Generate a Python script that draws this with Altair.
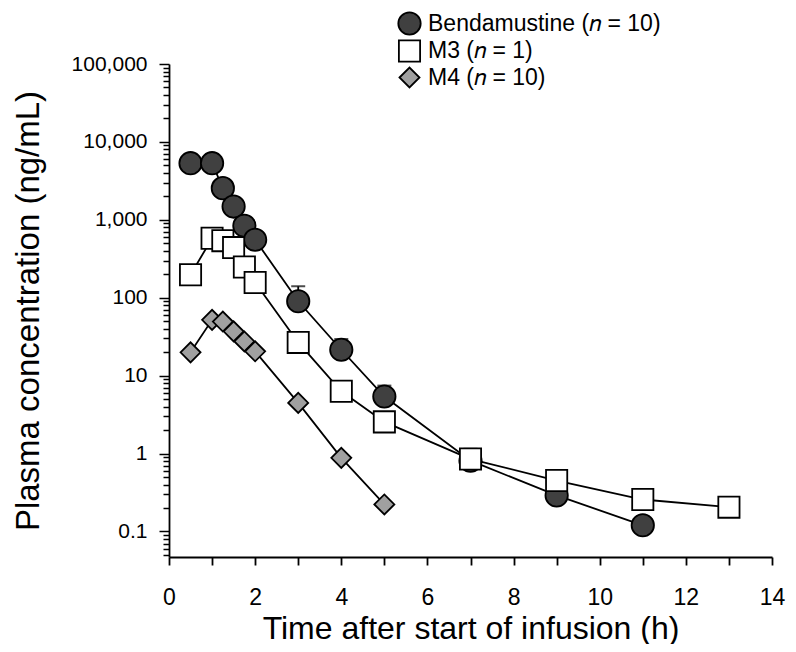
import altair as alt
import pandas as pd

# ---- data ----
series_names = ["Bendamustine (𝑛 = 10)", "M3 (𝑛 = 1)", "M4 (𝑛 = 10)"]

times_b = [0.5, 1, 1.25, 1.5, 1.75, 2, 3, 4, 5, 7, 9, 11]
conc_b = [5330, 5330, 2550, 1480, 840, 555, 90, 21.5, 5.4, 0.81, 0.29, 0.12]

times_m3 = [0.5, 1, 1.25, 1.5, 1.75, 2, 3, 4, 5, 7, 9, 11, 13]
conc_m3 = [197, 580, 540, 440, 248, 157, 26.7, 6.3, 2.55, 0.85, 0.45, 0.257, 0.205]

times_m4 = [0.5, 1, 1.25, 1.5, 1.75, 2, 3, 4, 5]
conc_m4 = [19.9, 52, 49.5, 37, 27.5, 20.5, 4.47, 0.88, 0.222]

err_times = [3, 4, 5, 7]
err_mean = [90, 21.5, 5.4, 0.81]
err_upper = [140, 29.5, 7.45, 1.15]

x_ticks = list(range(0, 15))
decades = [0.01, 0.1, 1, 10, 100, 1000, 10000, 100000]

# ---- tables ----
rows = []
for name, ts, cs in zip(series_names, [times_b, times_m3, times_m4], [conc_b, conc_m3, conc_m4]):
    for t, c in zip(ts, cs):
        rows.append({"series": name, "time": t, "conc": c})
df = pd.DataFrame(rows)
err = pd.DataFrame({"time": err_times, "conc": err_mean, "upper": err_upper})

y_min, y_max = 0.047, 100000
y_values = sorted({round(d * k, 6) for d in decades for k in range(1, 10)
                   if y_min <= d * k <= y_max})

is_decade = "abs(log(datum.value)/LN10 - round(log(datum.value)/LN10)) < 1e-6"

font = "Liberation Sans"

x_scale = alt.Scale(domain=[0, 14], nice=False, zero=False)
y_scale = alt.Scale(type="log", domain=[y_min, y_max], nice=False)

x_axis = alt.Axis(
    values=x_ticks, labelExpr="datum.value % 2 == 0 ? datum.label : ''",
    title="Time after start of infusion (h)", grid=False,
    tickSize=8, tickWidth=1.8, tickColor="black", domainColor="black", domainWidth=1.8,
    labelFont=font, labelFontSize=23, labelColor="black", labelPadding=21,
    labelFlush=False, labelOverlap=False,
    titleFont=font, titleFontSize=32, titleFontWeight="normal", titleColor="black",
    titleY=71, titleBaseline="middle",
)
y_axis = alt.Axis(
    values=y_values,
    labelExpr=f"{is_decade} ? (datum.value < 1 ? '0.1' : format(datum.value, ',')) : ''",
    title="Plasma concentration (ng/mL)", grid=False,
    tickSize={"condition": {"test": is_decade, "value": 10}, "value": 6},
    tickWidth=1.5, tickColor="black", domainColor="black", domainWidth=1.8,
    labelFont=font, labelFontSize=21, labelColor="black", labelPadding=12,
    labelOverlap=False, labelFlush=False,
    titleFont=font, titleFontSize=33, titleFontWeight="normal", titleColor="black",
    titleX=-141, titleBaseline="middle",
)

base = alt.Chart(df)

lines = base.mark_line(color="black", strokeWidth=1.8).encode(
    x=alt.X("time:Q", scale=x_scale, axis=x_axis),
    y=alt.Y("conc:Q", scale=y_scale, axis=y_axis),
    detail="series:N",
)

err_base = alt.Chart(err)
stems = err_base.mark_rule(color="black", strokeWidth=1.8).encode(
    x=alt.X("time:Q", scale=x_scale),
    y=alt.Y("conc:Q", scale=y_scale),
    y2="upper:Q",
)
caps = err_base.mark_tick(orient="horizontal", color="black", size=14, thickness=2).encode(
    x=alt.X("time:Q", scale=x_scale),
    y=alt.Y("upper:Q", scale=y_scale),
)

points = base.mark_point(filled=True, stroke="black", strokeWidth=1.8, opacity=1).encode(
    x=alt.X("time:Q", scale=x_scale),
    y=alt.Y("conc:Q", scale=y_scale),
    fill=alt.Fill("series:N", scale=alt.Scale(domain=series_names,
                                                range=["#404040", "#ffffff", "#a0a0a0"]),
                  legend=alt.Legend(title=None, orient="none", legendX=228, legendY=-53,
                                    labelFont=font, labelFontSize=23, labelColor="black",
                                    labelLimit=0,
                                    symbolStrokeColor="black", symbolStrokeWidth=1.8,
                                    labelOffset=6, rowPadding=-4)),
    shape=alt.Shape("series:N", scale=alt.Scale(domain=series_names,
                                                  range=["circle", "square", "diamond"])),
    size=alt.Size("series:N", scale=alt.Scale(domain=series_names, range=[500, 400, 1050])),
)

chart = alt.layer(lines, stems, caps, points).properties(
    width=603, height=493,
    autosize="none",
    padding={"left": 161, "top": 56, "right": 16, "bottom": 87},
).configure_view(stroke=None)

chart.save("out.html", embed_options={"renderer": "svg", "actions": False})
